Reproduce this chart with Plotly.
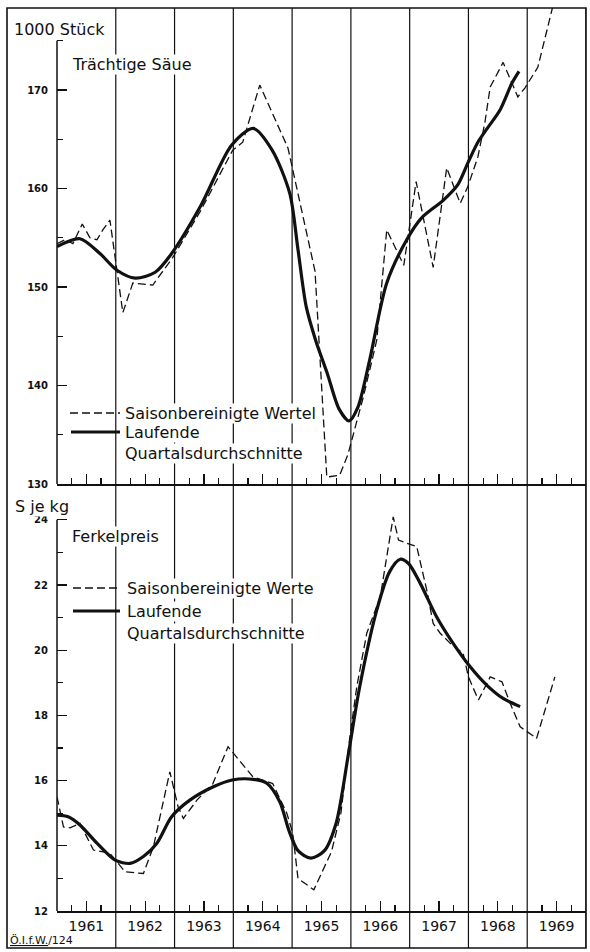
import plotly.graph_objects as go

# ---------------- data ----------------
years = list(range(1961, 1970))
year_labels = [str(y) for y in years]

# Trächtige Säue (1000 Stück)
sows_adj_t = [1961.00, 1961.14, 1961.27, 1961.43, 1961.56, 1961.68, 1961.78, 1961.90, 1962.12, 1962.29,
              1962.63, 1962.97, 1963.43, 1963.99, 1964.16, 1964.45, 1964.93, 1965.39, 1965.59, 1965.81,
              1965.95, 1966.21, 1966.44, 1966.61, 1966.90, 1967.11, 1967.40, 1967.63, 1967.86, 1967.99,
              1968.16, 1968.28, 1968.37, 1968.59, 1968.84, 1968.96, 1969.18, 1969.34, 1969.44]
sows_adj = [154.4, 154.8, 154.4, 156.4, 155.0, 154.8, 155.8, 156.8, 147.4, 150.4,
            150.2, 153.0, 157.6, 163.9, 164.7, 170.5, 164.1, 151.6, 130.7, 130.9,
            133.0, 138.8, 144.6, 155.8, 152.2, 160.7, 152.0, 162.1, 158.5, 160.2,
            163.2, 166.7, 170.3, 172.8, 169.3, 170.2, 172.3, 176.1, 178.6]

sows_avg_t = [1961.00, 1961.39, 1961.73, 1962.02, 1962.33, 1962.67, 1962.95, 1963.45, 1963.97, 1964.34,
              1964.66, 1964.96, 1965.10, 1965.24, 1965.40, 1965.60, 1965.80, 1965.97, 1966.12,
              1966.32, 1966.61, 1966.95, 1967.20, 1967.57, 1967.82, 1967.99, 1968.16, 1968.32, 1968.54,
              1968.74, 1968.86]
sows_avg = [154.1, 154.9, 153.4, 151.7, 150.9, 151.5, 153.4, 158.3, 164.4, 166.1,
            163.9, 159.5, 153.8, 148.0, 144.6, 141.2, 137.6, 136.4, 137.8,
            142.6, 150.4, 154.8, 157.0, 158.8, 160.4, 162.6, 164.7, 166.1, 168.0,
            170.7, 171.9]

# Ferkelpreis (S je kg)
price_adj_t = [1961.00, 1961.11, 1961.22, 1961.39, 1961.62, 1961.79, 1961.90, 1962.16, 1962.47, 1962.64,
               1962.92, 1963.06, 1963.15, 1963.38, 1963.65, 1963.91, 1964.33, 1964.57, 1964.67, 1964.91,
               1965.01, 1965.10, 1965.37, 1965.67, 1965.83, 1965.98, 1966.10, 1966.27, 1966.50, 1966.72,
               1966.81, 1966.95, 1967.12, 1967.29, 1967.40, 1967.52, 1967.69, 1967.91, 1968.00, 1968.17,
               1968.37, 1968.57, 1968.71, 1968.88, 1969.16, 1969.47]
price_adj = [15.5, 14.58, 14.55, 14.69, 13.87, 13.82, 13.77, 13.2, 13.15, 13.97,
             16.27, 15.2, 14.84, 15.4, 15.9, 17.04, 16.12, 15.97, 15.91, 15.0,
             14.39, 13.0, 12.65, 13.82, 15.0, 17.3, 18.88, 20.52, 21.64, 24.09,
             23.38, 23.28, 23.18, 21.85, 20.82, 20.52, 20.21, 19.9, 19.18, 18.47,
             19.18, 19.03, 18.37, 17.65, 17.30, 19.18]

price_avg_t = [1961.00, 1961.19, 1961.39, 1961.68, 1961.99, 1962.24, 1962.47, 1962.70, 1962.95, 1963.26,
               1963.66, 1963.98, 1964.34, 1964.57, 1964.79, 1964.95, 1965.10, 1965.32, 1965.55, 1965.75,
               1965.96, 1966.15, 1966.44, 1966.66, 1966.84, 1966.98, 1967.18, 1967.46, 1967.74, 1968.03,
               1968.31, 1968.59, 1968.88]
price_avg = [14.94, 14.89, 14.64, 14.08, 13.56, 13.46, 13.67, 14.08, 14.89, 15.40,
             15.81, 16.02, 16.04, 15.92, 15.35, 14.45, 13.85, 13.62, 13.85, 14.7,
             16.84, 18.88, 21.23, 22.41, 22.79, 22.66, 22.05, 21.02, 20.21, 19.49,
             18.93, 18.52, 18.27]

sows_major = [130, 140, 150, 160, 170]
sows_minor = [135, 145, 155, 165, 175]
price_major = [12, 14, 16, 18, 20, 22, 24]
price_minor = [13, 15, 17, 19, 21, 23]

# ---------------- layout helpers ----------------
W, H = 590, 952
ML, MR, MT, MB = 57, 4, 8, 41
PW, PH = W - ML - MR, H - MT - MB
SPLIT = (H - MB - 484) / PH  # top of lower panel


def px(x):
    return (x - ML) / PW


def py(y):
    return (H - MB - y) / PH


INK = "#111111"
FONT = "DejaVu Sans"
DASH = "8px,4px"

half_years = [y + 0.5 for y in years]
quarters = [y + q for y in years for q in (0.25, 0.75)]

fig = go.Figure()

fig.add_trace(go.Scatter(x=sows_adj_t, y=sows_adj, xaxis="x2", yaxis="y2", mode="lines",
                         line=dict(color=INK, width=1.3, dash=DASH), showlegend=False))
fig.add_trace(go.Scatter(x=sows_avg_t, y=sows_avg, xaxis="x2", yaxis="y2", mode="lines",
                         line=dict(color=INK, width=3.2, shape="spline", smoothing=0.8), showlegend=False))
fig.add_trace(go.Scatter(x=price_adj_t, y=price_adj, xaxis="x", yaxis="y", mode="lines",
                         line=dict(color=INK, width=1.3, dash=DASH), showlegend=False))
fig.add_trace(go.Scatter(x=price_avg_t, y=price_avg, xaxis="x", yaxis="y", mode="lines",
                         line=dict(color=INK, width=3.2, shape="spline", smoothing=0.8), showlegend=False))

xcommon = dict(range=[1961, 1970], showgrid=False, zeroline=False, showline=True, automargin=False,
               linecolor=INK, linewidth=1.5, tickmode="array", tickvals=half_years,
               ticktext=year_labels, ticks="inside", ticklen=10, tickwidth=1.2, tickcolor=INK,
               minor=dict(tickmode="array", tickvals=quarters, ticks="inside", ticklen=6,
                          tickwidth=1.2, tickcolor=INK, showgrid=False),
               tickfont=dict(family=FONT, size=14, color=INK), ticklabelstandoff=2)

fig.update_layout(
    width=W, height=H, autosize=False,
    margin=dict(l=ML, r=MR, t=MT, b=MB, autoexpand=False),
    paper_bgcolor="white", plot_bgcolor="white",
    showlegend=False, hovermode=False,
    xaxis=dict(**xcommon, domain=[0, 1], anchor="y", showticklabels=True),
    xaxis2=dict(**xcommon, domain=[0, 1], anchor="y2", showticklabels=False),
    yaxis=dict(domain=[0, SPLIT], range=[12, 12 + 427 / 32.6], showgrid=False, zeroline=False,
               showline=False, automargin=False, tickmode="array", tickvals=price_major, ticks="inside",
               ticklen=10, tickwidth=1.2, tickcolor=INK,
               minor=dict(tickmode="array", tickvals=price_minor, ticks="inside", ticklen=6,
                          tickwidth=1.2, tickcolor=INK, showgrid=False),
               tickfont=dict(family=FONT, size=10, color=INK, weight="bold"), ticklabelstandoff=8),
    yaxis2=dict(domain=[SPLIT, 1], range=[130, 130 + 476 / 9.85], showgrid=False, zeroline=False,
                showline=False, automargin=False, tickmode="array", tickvals=sows_major, ticks="inside",
                ticklen=10, tickwidth=1.2, tickcolor=INK,
                minor=dict(tickmode="array", tickvals=sows_minor, ticks="inside", ticklen=6,
                           tickwidth=1.2, tickcolor=INK, showgrid=False),
                tickfont=dict(family=FONT, size=10, color=INK, weight="bold"), ticklabelstandoff=8),
)

shapes = []
# outer frame
shapes.append(dict(type="rect", xref="paper", yref="paper", x0=px(7), x1=1, y0=py(948), y1=1,
                   line=dict(color=INK, width=1.6), layer="below"))
# year boundary lines (through both panels and label strip)
for yb in years[1:] + [1970]:
    shapes.append(dict(type="line", xref="x", yref="paper", x0=yb, x1=yb, y0=py(948), y1=1,
                       line=dict(color=INK, width=1.2), layer="below"))
# y axis lines
shapes.append(dict(type="line", xref="paper", yref="y2", x0=0, x1=0, y0=sows_major[0], y1=sows_minor[-1],
                   line=dict(color=INK, width=1.5)))
shapes.append(dict(type="line", xref="paper", yref="y", x0=0, x1=0, y0=price_major[0], y1=price_major[-1],
                   line=dict(color=INK, width=1.5)))
# legend samples
for (yy, dash, wd, x0) in [(413, DASH, 1.3, 70), (432, "solid", 3.2, 71),
                           (588, DASH, 1.3, 73), (611, "solid", 3.2, 73)]:
    shapes.append(dict(type="line", xref="paper", yref="paper", x0=px(x0), x1=px(120), y0=py(yy), y1=py(yy),
                       line=dict(color=INK, width=wd, dash=dash)))
fig.update_layout(shapes=shapes)

anns = []


def txt(s, x, y, size=16, bg=True):
    anns.append(dict(text=s, xref="paper", yref="paper", x=px(x), y=py(y), xanchor="left", yanchor="middle",
                     showarrow=False, font=dict(family=FONT, size=size, color=INK),
                     bgcolor="white" if bg else None, borderpad=0))


txt("1000 Stück", 13, 29)
txt("Trächtige Säue", 71, 65)
txt("Saisonbereinigte Wertel", 124, 413)
txt("Laufende", 124, 432)
txt("Quartalsdurchschnitte", 124, 453)
txt("S je kg", 14, 506)
txt("Ferkelpreis", 71, 536)
txt("Saisonbereinigte Werte", 126, 588)
txt("Laufende", 126, 611)
txt("Quartalsdurchschnitte", 126, 633)
txt("<u>Ö.I.f.W.</u>/124", 9, 940, size=11, bg=False)
fig.update_layout(annotations=anns)

# remove the browser's default 8px page margin so the figure sits at the window origin
fig.write_html("out.html", config={"displayModeBar": False, "staticPlot": True},
               post_script="document.body.style.margin='0';document.body.style.overflow='hidden';")
